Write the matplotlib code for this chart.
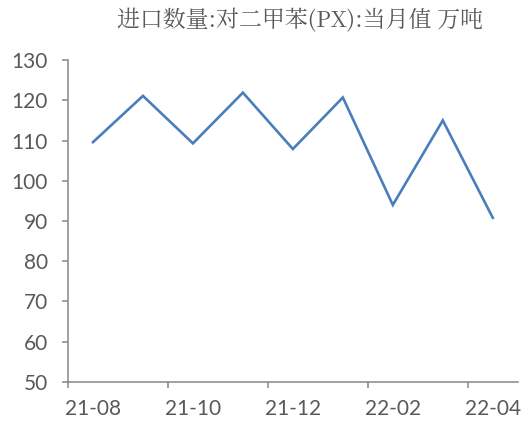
import matplotlib
matplotlib.use("Agg")
import matplotlib.pyplot as plt
from matplotlib.ticker import FixedLocator, NullFormatter

# 进口数量:对二甲苯(PX):当月值 (万吨)
months = ["21-08", "21-09", "21-10", "21-11", "21-12", "22-01", "22-02", "22-03", "22-04"]
values = [109.6, 121.1, 109.3, 121.9, 107.9, 120.7, 94.0, 115.0, 90.8]
title = "进口数量:对二甲苯(PX):当月值 万吨"
y_ticks = [50, 60, 70, 80, 90, 100, 110, 120, 130]

grey = "#868686"
label_col = "#595959"

fig = plt.figure(figsize=(5.23, 4.23), dpi=100)
ax = fig.add_axes([0.130, 0.097, 0.860, 0.761])

x = list(range(len(months)))
ax.plot(x, values, color="#4A7EBB", linewidth=1.9, solid_joinstyle="miter")

ax.set_xlim(-0.5, len(months) - 0.5)
ax.set_ylim(y_ticks[0], y_ticks[-1])
ax.set_yticks(y_ticks)
ax.set_yticklabels([str(v) for v in y_ticks], family="Lato", fontsize=15, color=label_col)

# tick marks on category boundaries, labels on every other category centre
ax.xaxis.set_major_locator(FixedLocator([i - 0.5 for i in x[::2]]))
ax.xaxis.set_major_formatter(NullFormatter())
ax.set_xticks(x[::2], minor=True)
ax.set_xticklabels(months[::2], minor=True, family="Lato", fontsize=15, color=label_col)
ax.tick_params(axis="x", which="minor", length=0, pad=12)
ax.tick_params(axis="x", which="major", length=4.5, width=1.1, color=grey, direction="out")
ax.tick_params(axis="y", length=4.5, width=1.1, color=grey, direction="out", pad=10)

for side in ["top", "right"]:
    ax.spines[side].set_visible(False)
for side in ["left", "bottom"]:
    ax.spines[side].set_color(grey)
    ax.spines[side].set_linewidth(1.1)

fig.text(0.574, 0.950, title, ha="center", va="center", fontsize=16.5,
         family=["Noto Serif CJK SC", "Noto Sans CJK SC", "DejaVu Sans"], color="#595959")

fig.savefig("out.png", dpi=100, facecolor="white")
